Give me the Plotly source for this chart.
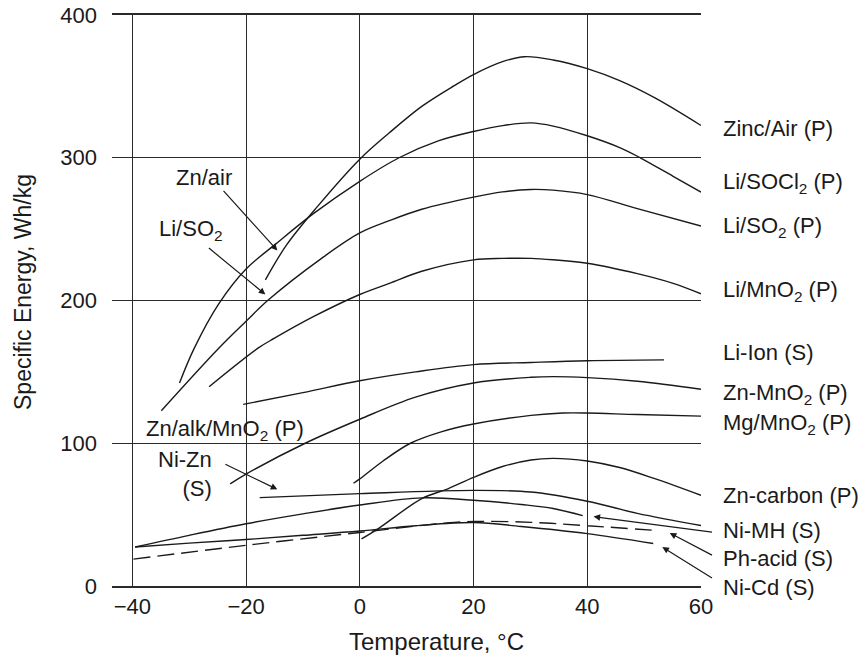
import plotly.graph_objects as go

# Specific energy (Wh/kg) versus temperature (deg C) for several battery systems
zinc_air_t = [-16.6, -12.9, -7.5, 0, 5.2, 10.9, 16.6, 20, 25.1, 29, 34, 40, 45.7, 51.9, 60]
zinc_air_e = [214.4, 238.8, 265.6, 299, 317.5, 336, 350.5, 358.3, 367.3, 370.8, 368.5, 362.4, 354, 341.9, 322.6]

li_socl2_t = [-31.7, -29.1, -24.8, -20, -14.8, -8.1, 0, 6.9, 13.8, 20, 25.1, 30.1, 34, 40, 45.7, 49.4, 55.1, 60]
li_socl2_e = [142.2, 166.6, 197.6, 222, 239.5, 261, 283.5, 300, 311.8, 318.4, 322.5, 324.4, 322.2, 315.4, 307.1, 299.8, 287, 275.9]

li_so2_t = [-34.9, -24.8, -20, -15.9, -6.9, 0, 5.2, 10.9, 20, 25.1, 30.1, 34, 40, 48.8, 60]
li_so2_e = [122.8, 166.6, 185.5, 201, 229, 247.3, 255.9, 263.9, 272.4, 276.1, 277.8, 277.3, 274.2, 264.4, 252.2]

li_mno2_t = [-26.5, -17.9, -15, -8, 0, 5.2, 10.9, 20, 25.1, 30.1, 34, 40, 48.8, 55.1, 60]
li_mno2_e = [139.6, 166.6, 173.6, 189, 204.2, 212, 220.5, 228.5, 229.5, 229.5, 228.5, 226.1, 218.8, 212, 204.7]

li_ion_t = [-20.5, -10, 0, 9.8, 20, 30.1, 40, 53.5]
li_ion_e = [127.2, 135.5, 143.8, 150, 155.1, 156.6, 157.8, 158.4]

zn_mno2_t = [-22.8, -20, -9.6, 0, 9.8, 20, 30.1, 34, 40, 48.8, 60]
zn_mno2_e = [71.5, 78.4, 100, 116.8, 132.3, 142.2, 146.2, 146.7, 146, 143.4, 137.8]

mg_mno2_t = [-1.1, 0, 4.1, 8.9, 14.3, 20, 30.1, 35.7, 40, 48.8, 60]
mg_mno2_e = [72, 75, 87.6, 100, 108, 113.5, 119.5, 121.2, 121.2, 120.1, 119]

zn_carbon_t = [0.3, 3.4, 10.9, 15.5, 20, 25.1, 30.1, 34, 40, 45.7, 52, 60]
zn_carbon_e = [33, 40.6, 61.2, 68.1, 76.1, 83.7, 88.3, 89.4, 87.6, 83, 75, 63.5]

ni_zn_t = [-17.6, 0, 20, 30.1, 40, 48.8, 60]
ni_zn_e = [61.9, 64.7, 67, 65.8, 59.4, 50.9, 42.4]

ni_mh_t = [-39.5, -30, -20, -10, 0, 10.9, 20, 28.4, 34, 39.2]
ni_mh_e = [27.3, 35.5, 43.6, 50.5, 56.7, 61.7, 60.1, 57.1, 54.3, 49.3]

ni_cd_t = [-39.5, -30, -20, -10, 0, 9.8, 20, 28.4, 40, 51.6]
ni_cd_e = [27.3, 30, 32.6, 35.5, 38.5, 42.2, 44.5, 41.7, 36.7, 29.8]

pb_acid_t = [-39.8, -20, 0, 14.9, 20, 30.1, 40, 52.6]
pb_acid_e = [18.8, 28.5, 37.5, 44, 45.2, 44.6, 42.2, 38.8]

x_ticks = [-40, -20, 0, 20, 40, 60]
x_tick_text = ["\u221240", "\u221220", "0", "20", "40", "60"]
y_ticks = [0, 100, 200, 300, 400]
y_tick_text = ["0", "100", "200", "300", "400"]

# Labels on the right of the frame: text and vertical pixel position of each label
right_labels = [
    "Zinc/Air (P)", "Li/SOCl<sub>2</sub> (P)", "Li/SO<sub>2</sub> (P)", "Li/MnO<sub>2</sub> (P)",
    "Li-Ion (S)", "Zn-MnO<sub>2</sub> (P)", "Mg/MnO<sub>2</sub> (P)", "Zn-carbon (P)",
    "Ni-MH (S)", "Ph-acid (S)", "Ni-Cd (S)",
]
right_label_py = [129, 183, 227.5, 290.8, 352, 393.7, 423.7, 495, 530.3, 558.8, 587.3]

FONT = "Liberation Sans, Arial, Helvetica, sans-serif"
INK = "#1a1a1a"
W, H = 865, 656
ML, MR, MT, MB = 112, 164, 15, 70
PW, PH = W - ML - MR, H - MT - MB

curves = [
    (zinc_air_t, zinc_air_e, "solid"),
    (li_socl2_t, li_socl2_e, "solid"),
    (li_so2_t, li_so2_e, "solid"),
    (li_mno2_t, li_mno2_e, "solid"),
    (li_ion_t, li_ion_e, "solid"),
    (zn_mno2_t, zn_mno2_e, "solid"),
    (mg_mno2_t, mg_mno2_e, "solid"),
    (zn_carbon_t, zn_carbon_e, "solid"),
    (ni_zn_t, ni_zn_e, "solid"),
    (ni_mh_t, ni_mh_e, "solid"),
    (ni_cd_t, ni_cd_e, "solid"),
    (pb_acid_t, pb_acid_e, "17px,7px"),
]

fig = go.Figure()
for t, e, dash in curves:
    fig.add_trace(go.Scatter(
        x=t, y=e, mode="lines",
        line=dict(color=INK, width=1.4, dash=dash, shape="spline", smoothing=1.0),
        hoverinfo="skip", showlegend=False,
    ))

annotations = []


def py_to_paper(py):
    return (MT + PH - py) / PH


for text, py in zip(right_labels, right_label_py):
    annotations.append(dict(
        text=text, xref="paper", yref="paper",
        x=(721 - ML) / PW, y=py_to_paper(py),
        xanchor="left", yanchor="middle", showarrow=False,
        font=dict(size=22, color=INK, family=FONT),
    ))

# Labels inside the plot
annotations += [
    dict(text="Zn/air", x=-27.4, y=286.3, xref="x", yref="y", showarrow=False,
         font=dict(size=22, color=INK, family=FONT)),
    dict(text="Li/SO<sub>2</sub>", x=-29.7, y=249.7, xref="x", yref="y", showarrow=False,
         font=dict(size=22, color=INK, family=FONT)),
    dict(text="Zn/alk/MnO<sub>2</sub> (P)", x=-38.0, y=109.0, xref="x", yref="y",
         xanchor="left", showarrow=False, font=dict(size=22, color=INK, family=FONT)),
    dict(text="Ni-Zn<br>(S)", x=-25.65, y=78.7, xref="x", yref="y", xanchor="right",
         align="right", showarrow=False, font=dict(size=22, color=INK, family=FONT)),
]

# Pointer arrows: (head x, head y, tail x, tail y)
arrows = [
    (-14.5, 235.1, -24.2, 277.8),
    (-16.6, 204.2, -26.8, 237.6),
    (-14.5, 67.7, -23.9, 85.8),
    (41.1, 48.6, 62.2, 37.6),
    (54.5, 37.1, 62.2, 21.1),
    (53.2, 27.3, 62.2, 5.0),
]
for hx, hy, tx, ty in arrows:
    annotations.append(dict(
        text="", x=hx, y=hy, ax=tx, ay=ty, xref="x", yref="y", axref="x", ayref="y",
        showarrow=True, arrowhead=2, arrowsize=1.1, arrowwidth=1.2, arrowcolor=INK,
        standoff=0, startstandoff=0,
    ))

# Axis titles
annotations += [
    dict(text="Temperature, \u00b0C", xref="paper", yref="paper",
         x=(436 - ML) / PW, y=py_to_paper(641.7), xanchor="center", yanchor="middle",
         showarrow=False, font=dict(size=24, color=INK, family=FONT)),
    dict(text="Specific Energy, Wh/kg", xref="paper", yref="paper",
         x=(23 - ML) / PW, y=py_to_paper(292), xanchor="center", yanchor="middle",
         textangle=-90, showarrow=False, font=dict(size=23, color=INK, family=FONT)),
]

fig.update_layout(
    width=W, height=H,
    margin=dict(l=ML, r=MR, t=MT, b=MB, pad=0, autoexpand=False),
    paper_bgcolor="white", plot_bgcolor="white",
    font=dict(family=FONT, size=22, color=INK),
    annotations=annotations,
    xaxis=dict(
        range=[-43.57, 60], tickmode="array", tickvals=x_ticks, ticktext=x_tick_text,
        showgrid=True, gridcolor="#2a2a2a", gridwidth=1.3,
        showline=True, linecolor="#2a2a2a", linewidth=1.5, mirror=True,
        ticks="", zeroline=False, ticklabelstandoff=0, automargin=False,
        tickfont=dict(size=22, family=FONT, color=INK),
    ),
    yaxis=dict(
        range=[0, 400], tickmode="array", tickvals=y_ticks, ticktext=y_tick_text,
        showgrid=True, gridcolor="#2a2a2a", gridwidth=1.3,
        showline=False, ticks="", zeroline=False, ticklabelstandoff=14, automargin=False,
        tickfont=dict(size=22, family=FONT, color=INK),
    ),
)

fig.write_html("out.html")
